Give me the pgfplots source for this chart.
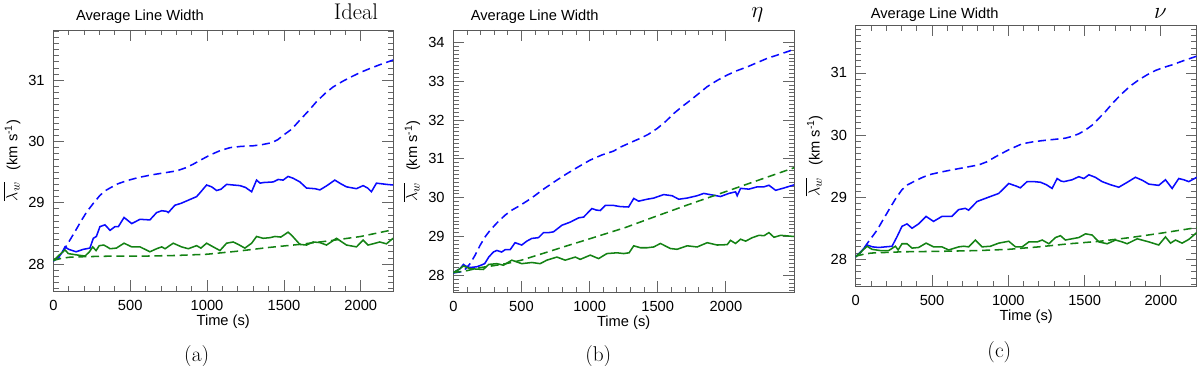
\documentclass[border=0pt]{standalone}
\usepackage{fontspec}
\usepackage{pgfplots}
\pgfplotsset{compat=1.18}
\newfontfamily\hv{Liberation Sans}
\newcommand\lab{\hv\fontsize{11pt}{13pt}\selectfont}
\definecolor{cblue}{RGB}{10,10,255}
\definecolor{cgreen}{RGB}{20,130,20}
\pgfplotsset{
  myax/.style={
    scale only axis,
    anchor=south west,
    axis line style={draw=black!65, line width=0.7pt},
    tick style={draw=black!60, line width=0.6pt},
    major tick length=8pt,
    minor tick length=4pt,
    xtick={0,500,1000,1500,2000},
    minor x tick num=4,
    ytick distance=1,
    minor y tick num=9,
    xmin=0,
    ticklabel style={font=\lab},
    label style={font=\lab},
    /pgf/number format/assume math mode=true,
    /pgf/number format/set thousands separator={},
    yticklabel style={xshift=-3pt},
    xticklabel style={yshift=-3.5pt},
    xlabel={Time (s)},
    ylabel={{\fontsize{13pt}{15pt}\selectfont$\overline{\lambda_w}$}\hspace{0.8em}(km s\textsuperscript{-1})},
    xlabel style={at={(axis description cs:0.5,-0.118)}, anchor=center},
    ylabel style={at={(axis description cs:-0.122,0.5)}, anchor=center},
    every axis plot/.append style={line width=1.15pt},
  },
  bd/.style={cblue, dash pattern=on 6pt off 3.5pt},
  bs/.style={cblue},
  gd/.style={cgreen, dash pattern=on 6pt off 3.5pt},
  gs/.style={cgreen},
}
\begin{document}
\begin{tikzpicture}
\path[use as bounding box] (0,0) rectangle (900pt,274.5pt);
% ---------------- (a) ----------------
\begin{axis}[myax, at={(40pt,56.25pt)}, width=254.8pt, height=195.75pt,
  xmax=2210, ymin=27.56, ymax=31.82]
\addplot[bd] coordinates {(0,28.05) (40,28.12) (76,28.26) (110,28.4) (141,28.53) (180,28.7) (217,28.85) (260,28.99) (303,29.12) (340,29.2) (368,29.24) (420,29.31) (477,29.36) (550,29.41) (628,29.45) (700,29.48) (802,29.52) (860,29.57) (910,29.63) (960,29.7) (1020,29.78) (1084,29.85) (1150,29.9) (1220,29.92) (1300,29.93) (1360,29.95) (1420,29.98) (1460,30.03) (1495,30.1) (1550,30.2) (1604,30.35) (1660,30.5) (1712,30.65) (1770,30.79) (1820,30.89) (1880,30.98) (1950,31.07) (2000,31.13) (2058,31.19) (2120,31.25) (2188,31.31) (2210,31.33)};
\addplot[bs] coordinates {(0,28.05) (30,28.1) (55,28.18) (76,28.28) (100,28.24) (148,28.2) (195,28.24) (238,28.26) (260,28.42) (280,28.45) (303,28.61) (336,28.64) (369,28.55) (401,28.61) (423,28.61) (460,28.76) (510,28.66) (564,28.73) (628,28.72) (672,28.84) (705,28.87) (737,28.86) (748,28.84) (791,28.96) (830,28.99) (867,29.03) (932,29.1) (960,29.18) (997,29.29) (1030,29.26) (1062,29.2) (1090,29.22) (1127,29.3) (1170,29.29) (1214,29.28) (1250,29.25) (1290,29.18) (1322,29.37) (1345,29.32) (1365,29.33) (1430,29.34) (1463,29.38) (1495,29.37) (1527,29.43) (1560,29.4) (1604,29.34) (1647,29.24) (1701,29.23) (1734,29.21) (1780,29.28) (1831,29.37) (1870,29.31) (1907,29.26) (1972,29.23) (2015,29.28) (2045,29.24) (2069,29.18) (2102,29.32) (2135,29.31) (2167,29.3) (2210,29.29)};
\addplot[gs] coordinates {(0,28.05) (40,28.15) (76,28.23) (98,28.17) (148,28.15) (206,28.13) (235,28.2) (256,28.28) (278,28.22) (299,28.3) (328,28.31) (350,28.28) (369,28.25) (410,28.26) (460,28.34) (510,28.28) (564,28.28) (628,28.2) (672,28.25) (705,28.28) (727,28.25) (780,28.34) (834,28.28) (878,28.25) (932,28.3) (960,28.26) (997,28.34) (1040,28.28) (1084,28.22) (1127,28.34) (1170,28.36) (1203,28.32) (1246,28.26) (1290,28.34) (1322,28.45) (1365,28.42) (1409,28.43) (1441,28.45) (1480,28.44) (1527,28.52) (1550,28.47) (1604,28.32) (1647,28.31) (1690,28.36) (1734,28.35) (1777,28.31) (1842,28.42) (1907,28.31) (1972,28.28) (2015,28.39) (2047,28.31) (2080,28.33) (2123,28.36) (2167,28.33) (2210,28.42)};
\addplot[gd] coordinates {(0,28.06) (50,28.09) (100,28.11) (200,28.12) (400,28.13) (600,28.13) (800,28.14) (1000,28.16) (1200,28.21) (1400,28.27) (1600,28.32) (1800,28.38) (2000,28.45) (2210,28.56)};
\end{axis}
% ---------------- (b) ----------------
\begin{axis}[myax, at={(340pt,55.5pt)}, width=255.5pt, height=196.5pt,
  xmax=2500, ymin=27.57, ymax=34.32]
\addplot[bd] coordinates {(0,28.06) (74,28.1) (123,28.3) (160,28.52) (196,28.77) (235,29.0) (270,29.16) (320,29.35) (380,29.55) (430,29.68) (490,29.8) (570,29.98) (662,30.22) (750,30.43) (834,30.62) (920,30.8) (1005,30.97) (1090,31.1) (1176,31.2) (1225,31.3) (1300,31.42) (1373,31.53) (1430,31.63) (1495,31.78) (1560,31.97) (1618,32.17) (1680,32.35) (1740,32.51) (1800,32.68) (1863,32.86) (1936,33.02) (2010,33.16) (2080,33.27) (2157,33.37) (2230,33.48) (2304,33.59) (2400,33.7) (2500,33.82)};
\addplot[bs] coordinates {(0,28.07) (49,28.17) (74,28.28) (90,28.24) (123,28.2) (172,28.22) (196,28.25) (230,28.3) (260,28.47) (294,28.6) (319,28.64) (355,28.6) (380,28.66) (417,28.66) (453,28.84) (502,28.78) (539,28.88) (576,28.95) (625,28.97) (662,29.1) (700,29.1) (735,29.12) (797,29.29) (858,29.37) (919,29.48) (956,29.5) (1017,29.72) (1050,29.68) (1078,29.67) (1115,29.8) (1176,29.8) (1225,29.77) (1286,29.76) (1324,29.98) (1360,29.91) (1422,29.96) (1471,29.99) (1544,30.08) (1605,30.05) (1655,29.96) (1716,29.99) (1789,30.05) (1838,30.11) (1899,30.07) (1961,30.03) (2022,30.11) (2071,30.15) (2083,30.05) (2108,30.24) (2169,30.22) (2231,30.28) (2280,30.28) (2316,30.32) (2365,30.19) (2427,30.25) (2500,30.33)};
\addplot[gs] coordinates {(0,28.07) (40,28.15) (74,28.24) (123,28.17) (172,28.16) (220,28.15) (260,28.28) (319,28.3) (368,28.26) (429,28.39) (502,28.3) (576,28.33) (637,28.3) (686,28.39) (760,28.47) (821,28.39) (895,28.47) (931,28.41) (1005,28.52) (1066,28.43) (1127,28.56) (1201,28.58) (1250,28.56) (1290,28.58) (1324,28.76) (1373,28.71) (1422,28.71) (1470,28.73) (1520,28.82) (1593,28.69) (1642,28.67) (1716,28.76) (1789,28.73) (1863,28.84) (1936,28.78) (2010,28.79) (2034,28.9) (2071,28.82) (2108,28.93) (2145,28.88) (2194,28.97) (2243,29.03) (2280,29.02) (2316,29.1) (2353,28.98) (2402,29.03) (2500,29.0)};
\addplot[gd] coordinates {(0,28.07) (100,28.12) (200,28.2) (300,28.25) (400,28.31) (500,28.39) (600,28.5) (700,28.61) (834,28.76) (1000,28.94) (1262,29.23) (1471,29.5) (1716,29.81) (1961,30.11) (2206,30.41) (2500,30.77)};
\end{axis}
% ---------------- (c) ----------------
\begin{axis}[myax, at={(641.8pt,60pt)}, width=255.75pt, height=195.2pt,
  xmax=2235, ymin=27.57, ymax=31.76]
\addplot[bd] coordinates {(0,28.04) (40,28.13) (74,28.25) (110,28.37) (140,28.47) (180,28.64) (216,28.79) (260,28.97) (303,29.12) (340,29.2) (380,29.25) (430,29.31) (479,29.36) (550,29.4) (632,29.44) (720,29.48) (807,29.52) (860,29.57) (916,29.65) (1000,29.76) (1091,29.86) (1160,29.89) (1222,29.91) (1300,29.93) (1374,29.95) (1420,29.98) (1462,30.02) (1505,30.08) (1550,30.16) (1590,30.26) (1637,30.38) (1690,30.53) (1746,30.67) (1800,30.79) (1856,30.89) (1910,30.97) (1965,31.04) (2020,31.09) (2074,31.13) (2140,31.19) (2235,31.27)};
\addplot[bs] coordinates {(0,28.04) (40,28.14) (74,28.23) (110,28.2) (151,28.19) (195,28.2) (238,28.21) (270,28.36) (303,28.53) (336,28.57) (369,28.5) (412,28.57) (461,28.69) (510,28.61) (565,28.69) (630,28.69) (675,28.8) (718,28.82) (740,28.79) (795,28.93) (871,29.0) (937,29.06) (1003,29.22) (1050,29.18) (1079,29.15) (1123,29.25) (1170,29.25) (1211,29.24) (1250,29.2) (1287,29.14) (1320,29.3) (1345,29.26) (1364,29.25) (1418,29.28) (1462,29.33) (1495,29.3) (1528,29.36) (1570,29.32) (1615,29.25) (1670,29.2) (1724,29.16) (1780,29.24) (1833,29.32) (1880,29.27) (1921,29.21) (1986,29.19) (2030,29.28) (2074,29.14) (2117,29.3) (2150,29.28) (2183,29.25) (2235,29.32)};
\addplot[gs] coordinates {(0,28.04) (40,28.13) (74,28.21) (107,28.16) (162,28.14) (216,28.14) (260,28.21) (278,28.15) (303,28.25) (336,28.25) (369,28.18) (412,28.19) (461,28.26) (510,28.2) (565,28.2) (609,28.15) (675,28.2) (708,28.21) (740,28.2) (784,28.31) (828,28.2) (883,28.21) (937,28.26) (1003,28.29) (1047,28.2) (1091,28.2) (1135,28.28) (1190,28.28) (1222,28.31) (1266,28.25) (1309,28.35) (1342,28.38) (1374,28.31) (1418,28.33) (1462,28.35) (1506,28.41) (1550,28.39) (1593,28.28) (1648,28.25) (1703,28.31) (1746,28.28) (1779,28.25) (1845,28.33) (1921,28.28) (1986,28.23) (2030,28.36) (2063,28.26) (2096,28.31) (2139,28.26) (2183,28.32) (2235,28.43)};
\addplot[gd] coordinates {(0,28.05) (50,28.08) (100,28.1) (300,28.12) (600,28.13) (800,28.14) (1000,28.16) (1200,28.2) (1400,28.25) (1600,28.29) (1800,28.35) (2000,28.42) (2235,28.51)};
\end{axis}
% titles
\node[font=\lab] at (105pt,262.3pt) {Average Line Width};
\node[font=\lab] at (401pt,261.8pt) {Average Line Width};
\node[font=\lab] at (701pt,263.8pt) {Average Line Width};
\node[anchor=base, inner sep=0pt, font=\fontsize{17pt}{19pt}\selectfont] at (267pt,259.5pt) {Ideal};
\node[anchor=base, inner sep=0pt, font=\fontsize{17pt}{19pt}\selectfont] at (568.1pt,261.5pt) {$\eta$};
\node[anchor=base, inner sep=0pt, font=\fontsize{17pt}{19pt}\selectfont] at (870.3pt,260.25pt) {$\nu$};
% captions
\node[inner sep=0pt, font=\fontsize{16pt}{18pt}\selectfont] at (147.5pt,7.5pt) {(a)};
\node[inner sep=0pt, font=\fontsize{16pt}{18pt}\selectfont] at (448.7pt,7.5pt) {(b)};
\node[inner sep=0pt, font=\fontsize{16pt}{18pt}\selectfont] at (749.5pt,10.5pt) {(c)};
\end{tikzpicture}
\end{document}
